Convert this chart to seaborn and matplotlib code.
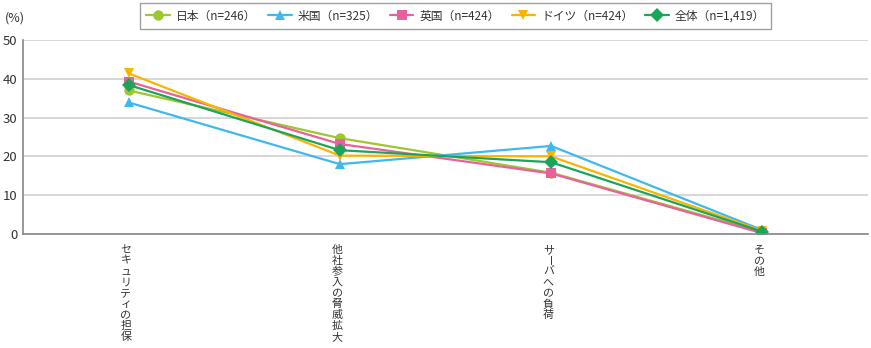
import matplotlib
matplotlib.use("Agg")
import matplotlib.pyplot as plt
import seaborn as sns
import pandas as pd

categories = ["セキュリティの担保", "他社参入の脅威拡大", "サーバへの負荷", "その他"]
series_names = ["日本（n=246）", "米国（n=325）", "英国（n=424）", "ドイツ（n=424）", "全体（n=1,419）"]
japan = [37.0, 24.7, 15.8, 0.5]
usa = [33.9, 18.0, 22.7, 1.0]
uk = [39.3, 23.2, 15.6, 0.2]
germany = [41.4, 20.2, 20.0, 0.8]
overall = [38.4, 21.6, 18.5, 0.6]
yticks = [0, 10, 20, 30, 40, 50]

colors = ["#9cc72e", "#3fb8ee", "#e9619c", "#f8b500", "#1ea35b"]
markers = ["o", "^", "s", "v", "D"]

sns.set_theme(style="white")
plt.rcParams['font.family'] = ['Noto Sans CJK JP', 'DejaVu Sans']

rows = []
for name, vals in zip(series_names, [japan, usa, uk, germany, overall]):
    for c, v in zip(categories, vals):
        rows.append({"category": c, "series": name, "value": v})
df = pd.DataFrame(rows)

fig = plt.figure(figsize=(8.71, 3.48), dpi=100)
ax = fig.add_axes([23/871, 1-234/348, (868-23)/871, (234-40)/348])

sns.lineplot(data=df, x="category", y="value", hue="series", style="series",
             hue_order=series_names, style_order=series_names,
             palette=colors, markers=markers, dashes=False, ax=ax,
             linewidth=1.6, markersize=7.5, markeredgewidth=0, sort=False,
             legend=True)

ax.set_xlim(-0.5, 3.5)
ax.set_ylim(0, 50)
ax.set_yticks(yticks)
ax.set_yticklabels([str(t) for t in yticks], fontsize=9.5, color="#333333")
ax.yaxis.grid(True, color="#d4d4d4", linewidth=1.3)
ax.set_axisbelow(True)
ax.set_xlabel("")
ax.set_ylabel("")
ax.tick_params(axis="y", length=0, pad=4)

ax.set_xticks(range(len(categories)))
ax.set_xticklabels([])
ax.tick_params(axis="x", which="major", length=0)
ax.set_xticks([0.5, 1.5, 2.5, 3.5], minor=True)
ax.tick_params(axis="x", which="minor", direction="in", length=6, color="#888888", width=1)

# vertical (tategaki) category labels: one character per row, fixed pitch
pitch_pt = 10.9 * 72 / 100
first_pt = 16 * 72 / 100
for i, c in enumerate(categories):
    for j, ch in enumerate(c):
        ax.annotate(ch, xy=(i, 0), xycoords=("data", "axes fraction"),
                    xytext=(-2, -first_pt - j * pitch_pt), textcoords="offset points",
                    ha="center", va="center", fontsize=7.9, color="#333333",
                    rotation=-90 if ch == "ー" else 0, annotation_clip=False)

for s in ["top", "right"]:
    ax.spines[s].set_visible(False)
for s in ["left", "bottom"]:
    ax.spines[s].set_color("#888888")
    ax.spines[s].set_linewidth(1.2)

fig.text(5/871, 1-18/348, "(%)", fontsize=9, color="#333333", va="center", ha="left")

handles, labels = ax.get_legend_handles_labels()
ax.legend_.remove()
leg = fig.legend(handles, labels, loc="center", bbox_to_anchor=((143+768)/2/871, 1-16/348),
                 ncol=5, frameon=True, fontsize=8.5, handlelength=2.0, handletextpad=0.5,
                 columnspacing=1.0, borderpad=0.55, fancybox=False)
leg.get_frame().set_edgecolor("#888888")
leg.get_frame().set_linewidth(1.0)
for t in leg.get_texts():
    t.set_color("#333333")

fig.savefig("out.png", dpi=100)
